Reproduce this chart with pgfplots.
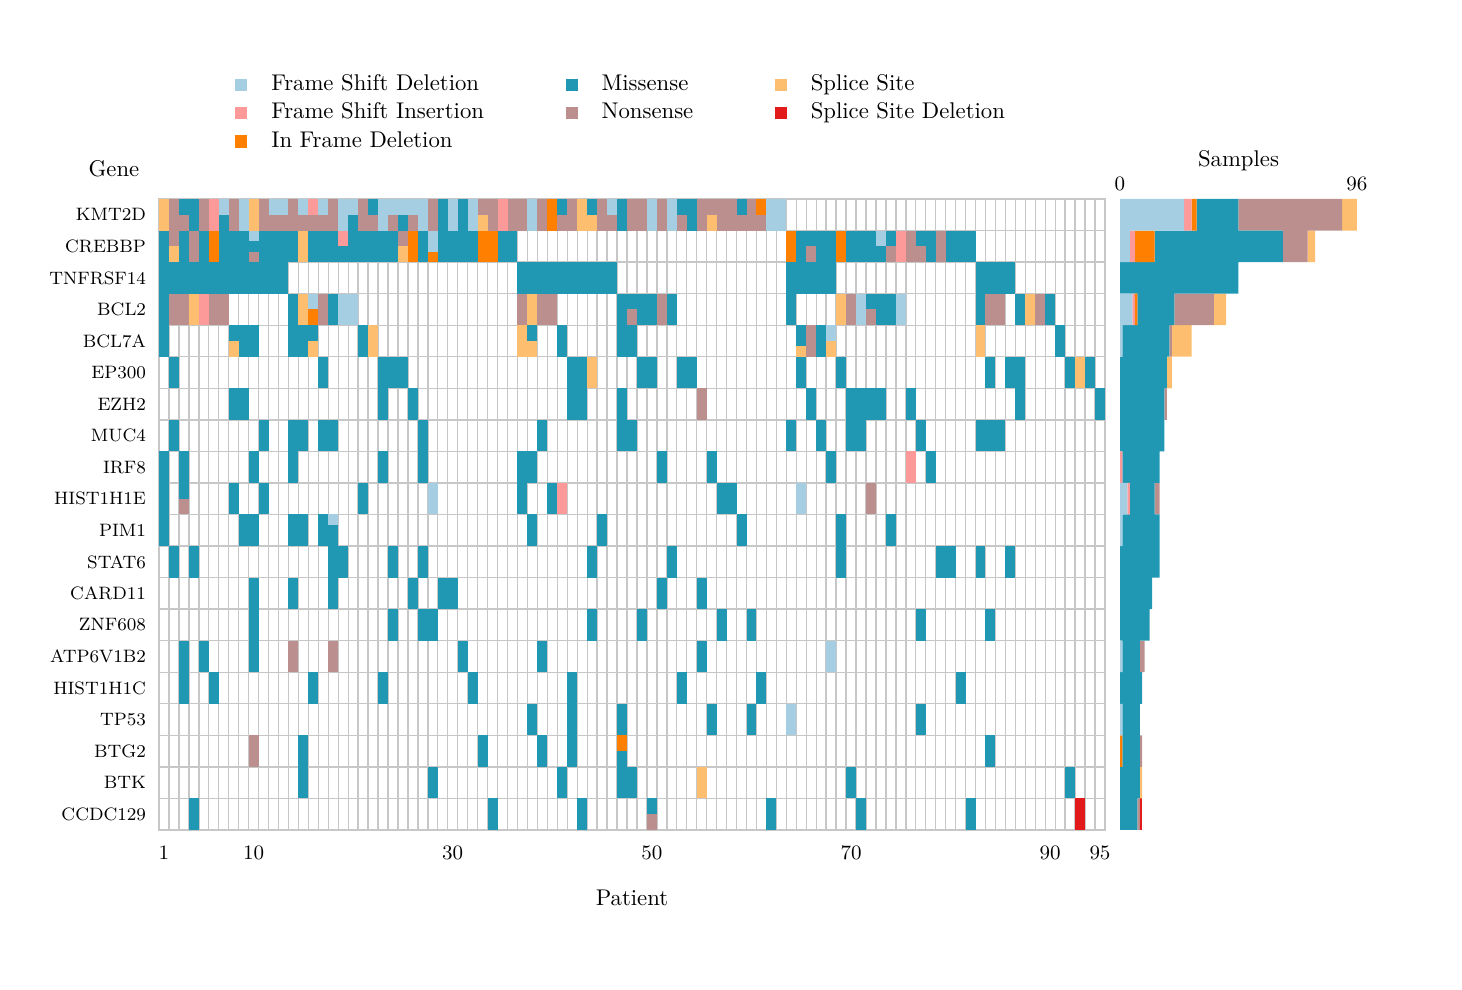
\documentclass[border=0pt]{standalone}
\usepackage{fontspec}
\usepackage{pgfplots}
\pgfplotsset{compat=1.18}
\usepackage{pgfplotstable}

\definecolor{cFSD}{RGB}{166,206,227}
\definecolor{cFSI}{RGB}{251,154,153}
\definecolor{cIFD}{RGB}{255,127,0}
\definecolor{cMis}{RGB}{33,152,179}
\definecolor{cNon}{RGB}{188,143,143}
\definecolor{cSpl}{RGB}{253,191,111}
\definecolor{cSSD}{RGB}{227,26,28}

% p = patient, g = gene row, k-th of n slices inside the cell
\pgfplotstableread{
p g k n
7 1 1 2
9 1 1 1
12 1 1 2
13 1 1 2
15 1 1 2
17 1 1 2
19 1 1 1
20 1 1 2
23 1 1 1
24 1 1 2
25 1 1 2
26 1 1 2
27 1 1 1
30 1 1 1
32 1 1 1
38 1 1 1
46 1 1 2
50 1 1 1
52 1 1 1
62 1 1 1
63 1 1 1
10 2 1 3
28 2 1 3
28 2 2 3
73 2 1 2
16 4 1 2
19 4 1 1
20 4 1 1
71 4 1 1
75 4 1 1
68 5 1 2
28 10 1 1
65 10 1 1
18 11 1 3
68 15 1 1
64 17 1 1
}\fsd

\pgfplotstableread{
p g k n
6 1 1 1
16 1 1 2
35 1 1 1
19 2 1 2
75 2 1 1
5 4 1 1
76 9 1 1
41 10 1 1
}\fsi

\pgfplotstableread{
p g k n
40 1 1 1
61 1 1 2
6 2 1 1
26 2 1 1
28 2 3 3
33 2 1 1
34 2 1 1
64 2 1 1
69 2 1 1
16 4 2 2
47 18 1 2
}\ifd

\pgfplotstableread{
p g k n
3 1 1 2
4 1 1 1
7 1 2 2
20 1 2 2
22 1 1 2
25 1 2 2
29 1 1 1
31 1 1 1
41 1 1 2
44 1 1 2
47 1 1 1
53 1 1 2
54 1 1 1
59 1 1 2
1 2 1 1
3 2 1 1
5 2 1 1
7 2 1 1
8 2 1 1
9 2 1 1
10 2 2 3
11 2 1 1
12 2 1 1
13 2 1 1
14 2 1 1
16 2 1 1
17 2 1 1
18 2 1 1
19 2 2 2
20 2 1 1
21 2 1 1
22 2 1 1
23 2 1 1
24 2 1 1
27 2 1 1
29 2 1 1
30 2 1 1
31 2 1 1
32 2 1 1
35 2 1 1
36 2 1 1
65 2 1 1
66 2 1 2
67 2 1 1
68 2 1 1
70 2 1 1
71 2 1 1
72 2 1 1
73 2 2 2
74 2 1 2
77 2 1 2
78 2 1 1
80 2 1 1
81 2 1 1
82 2 1 1
1 3 1 1
2 3 1 1
3 3 1 1
4 3 1 1
5 3 1 1
6 3 1 1
7 3 1 1
8 3 1 1
9 3 1 1
10 3 1 1
11 3 1 1
12 3 1 1
13 3 1 1
37 3 1 1
38 3 1 1
39 3 1 1
40 3 1 1
41 3 1 1
42 3 1 1
43 3 1 1
44 3 1 1
45 3 1 1
46 3 1 1
64 3 1 1
65 3 1 1
66 3 1 1
67 3 1 1
68 3 1 1
83 3 1 1
84 3 1 1
85 3 1 1
86 3 1 1
1 4 1 1
14 4 1 1
18 4 1 1
47 4 1 1
48 4 1 2
49 4 1 1
50 4 1 1
52 4 1 1
64 4 1 1
72 4 1 2
73 4 1 1
74 4 1 1
83 4 1 1
87 4 1 1
90 4 1 1
1 5 1 1
8 5 1 2
9 5 1 1
10 5 1 1
14 5 1 1
15 5 1 1
16 5 1 2
21 5 1 1
38 5 1 2
41 5 1 1
47 5 1 1
48 5 1 1
65 5 1 3
65 5 2 3
67 5 1 1
91 5 1 1
2 6 1 1
17 6 1 1
23 6 1 1
24 6 1 1
25 6 1 1
42 6 1 1
43 6 1 1
49 6 1 1
50 6 1 1
53 6 1 1
54 6 1 1
65 6 1 1
69 6 1 1
84 6 1 1
86 6 1 1
87 6 1 1
92 6 1 1
94 6 1 1
8 7 1 1
9 7 1 1
23 7 1 1
26 7 1 1
42 7 1 1
43 7 1 1
47 7 1 1
66 7 1 1
70 7 1 1
71 7 1 1
72 7 1 1
73 7 1 1
76 7 1 1
87 7 1 1
95 7 1 1
2 8 1 1
11 8 1 1
14 8 1 1
15 8 1 1
17 8 1 1
18 8 1 1
27 8 1 1
39 8 1 1
47 8 1 1
48 8 1 1
64 8 1 1
67 8 1 1
70 8 1 1
71 8 1 1
77 8 1 1
83 8 1 1
84 8 1 1
85 8 1 1
1 9 1 1
3 9 1 1
10 9 1 1
14 9 1 1
23 9 1 1
27 9 1 1
37 9 1 1
38 9 1 1
51 9 1 1
56 9 1 1
68 9 1 1
78 9 1 1
1 10 1 1
3 10 1 2
8 10 1 1
11 10 1 1
21 10 1 1
37 10 1 1
40 10 1 1
57 10 1 1
58 10 1 1
1 11 1 1
9 11 1 1
10 11 1 1
14 11 1 1
15 11 1 1
17 11 1 1
18 11 2 3
18 11 3 3
38 11 1 1
45 11 1 1
59 11 1 1
69 11 1 1
74 11 1 1
2 12 1 1
4 12 1 1
18 12 1 1
19 12 1 1
24 12 1 1
27 12 1 1
44 12 1 1
52 12 1 1
69 12 1 1
79 12 1 1
80 12 1 1
83 12 1 1
86 12 1 1
10 13 1 1
14 13 1 1
18 13 1 1
26 13 1 1
29 13 1 1
30 13 1 1
51 13 1 1
55 13 1 1
10 14 1 1
24 14 1 1
27 14 1 1
28 14 1 1
44 14 1 1
49 14 1 1
57 14 1 1
60 14 1 1
77 14 1 1
84 14 1 1
3 15 1 1
5 15 1 1
10 15 1 1
31 15 1 1
39 15 1 1
55 15 1 1
3 16 1 1
6 16 1 1
16 16 1 1
23 16 1 1
32 16 1 1
42 16 1 1
53 16 1 1
61 16 1 1
81 16 1 1
38 17 1 1
42 17 1 1
47 17 1 1
56 17 1 1
60 17 1 1
77 17 1 1
15 18 1 1
33 18 1 1
39 18 1 1
42 18 1 1
47 18 2 2
84 18 1 1
15 19 1 1
28 19 1 1
41 19 1 1
47 19 1 1
48 19 1 1
70 19 1 1
92 19 1 1
4 20 1 1
34 20 1 1
43 20 1 1
50 20 1 2
62 20 1 1
71 20 1 1
82 20 1 1
}\mis

\pgfplotstableread{
p g k n
2 1 1 1
3 1 2 2
5 1 1 1
8 1 1 1
11 1 1 1
12 1 2 2
13 1 2 2
14 1 1 1
15 1 2 2
16 1 2 2
17 1 2 2
18 1 1 1
21 1 1 1
22 1 2 2
24 1 2 2
26 1 2 2
28 1 1 1
33 1 1 2
34 1 1 1
36 1 1 1
37 1 1 1
39 1 1 1
41 1 2 2
42 1 1 1
45 1 1 1
46 1 2 2
48 1 1 1
49 1 1 1
51 1 1 1
53 1 2 2
55 1 1 1
56 1 1 2
57 1 1 1
58 1 1 1
59 1 2 2
60 1 1 1
61 1 2 2
2 2 1 2
4 2 1 1
10 2 3 3
25 2 1 2
66 2 2 2
74 2 2 2
76 2 1 1
77 2 2 2
79 2 1 1
2 4 1 1
3 4 1 1
6 4 1 1
7 4 1 1
17 4 1 1
37 4 1 1
39 4 1 1
40 4 1 1
48 4 2 2
51 4 1 1
70 4 1 1
72 4 2 2
84 4 1 1
85 4 1 1
89 4 1 1
66 5 1 1
55 7 1 1
3 10 2 2
72 10 1 1
14 15 1 1
18 15 1 1
10 18 1 1
50 20 2 2
}\non

\pgfplotstableread{
p g k n
1 1 1 1
10 1 1 1
33 1 2 2
43 1 1 1
44 1 2 2
56 1 2 2
2 2 2 2
15 2 1 1
25 2 2 2
4 4 1 1
15 4 1 1
38 4 1 1
69 4 1 1
88 4 1 1
8 5 2 2
16 5 2 2
22 5 1 1
37 5 1 1
38 5 2 2
65 5 3 3
68 5 2 2
83 5 1 1
44 6 1 1
93 6 1 1
55 19 1 1
}\spl

\pgfplotstableread{
p g k n
93 20 1 1
}\ssd

% number of mutated samples per gene and type
\pgfplotstableread{
g fsd fsi ifd mis non spl ssd
1 26 3 2 17 42 6 0
2 4 2 8 52 10 3 0
3 0 0 0 48 0 0 0
4 5 1 1 15 16 5 0
5 1 0 0 19 1 8 0
6 0 0 0 19 0 2 0
7 0 0 0 18 1 0 0
8 0 0 0 18 0 0 0
9 0 1 0 15 0 0 0
10 3 1 0 10 2 0 0
11 1 0 0 15 0 0 0
12 0 0 0 16 0 0 0
13 0 0 0 13 0 0 0
14 0 0 0 12 0 0 0
15 1 0 0 7 2 0 0
16 0 0 0 9 0 0 0
17 1 0 0 7 0 0 0
18 0 0 1 7 1 0 0
19 0 0 0 8 0 1 0
20 0 0 0 7 1 0 1
}\bars

\pgfplotsset{
  cell/.style={forget plot, draw=none, mark=none,
    error bars/.cd, y dir=both, y explicit, error mark=none,
    error bar style={line width=4.3815pt, draw=#1, line cap=butt}},
}

\begin{document}
\begin{tikzpicture}
\path[use as bounding box] (-69.96pt,-70.4pt) rectangle (573.32pt,365.2pt);
\begin{axis}[
    name=main, at={(0,0)}, anchor=south west, scale only axis,
    width=416.24pt, height=277.64pt,
    xmin=0.5, xmax=95.5, ymin=0.5, ymax=20.5, y dir=reverse,
    xtick={1,10,30,50,70,90,95},
    ytick={1,...,20},
    yticklabels={KMT2D,CREBBP,TNFRSF14,BCL2,BCL7A,EP300,EZH2,MUC4,IRF8,HIST1H1E,PIM1,STAT6,CARD11,ZNF608,ATP6V1B2,HIST1H1C,TP53,BTG2,BTK,CCDC129},
    minor xtick={1.5,2.5,...,94.5},
    minor ytick={1.5,2.5,...,19.5},
    xminorgrids, yminorgrids,
    minor grid style={draw=black!22, line width=0.6pt},
    axis line style={draw=black!22, line width=0.6pt},
    major tick length=0pt, minor tick length=0pt,
    xticklabel style={font=\fontsize{8.8}{10}\selectfont, yshift=-3.8pt},
    yticklabel style={font=\fontsize{7.9}{10}\selectfont, xshift=-2.2pt},
    xlabel={Patient},
    xlabel style={at={(axis description cs:0.5,-0.1077)}, anchor=center},
    ylabel={Gene},
    ylabel style={at={(axis description cs:-0.0476,1.0475)}, rotate=-90, anchor=center},
    legend columns=3,
    legend image code/.code={
      \fill[#1] (0pt,-2.65pt) rectangle (5.3pt,2.65pt);
      \path[draw=none, fill=none] (0pt,0pt) rectangle (14.3pt,0.1pt);},
    legend style={at={(axis description cs:0.0803,1.2035)}, anchor=north west,
      draw=none, fill=none, inner sep=0pt, row sep=0.5pt,
      nodes={inner sep=1.5pt, text height=7pt, text depth=2pt},
      cells={anchor=west},
      /tikz/every even column/.append style={column sep=34.4pt}},
]
\addlegendimage{fill=cFSD, draw=none}\addlegendentry{Frame Shift Deletion}
\addlegendimage{fill=cMis, draw=none}\addlegendentry{Missense}
\addlegendimage{fill=cSpl, draw=none}\addlegendentry{Splice Site}
\addlegendimage{fill=cFSI, draw=none}\addlegendentry{Frame Shift Insertion}
\addlegendimage{fill=cNon, draw=none}\addlegendentry{Nonsense}
\addlegendimage{fill=cSSD, draw=none}\addlegendentry{Splice Site Deletion}
\addlegendimage{fill=cIFD, draw=none}\addlegendentry{In Frame Deletion}

\addplot[cell=cFSD] table[x=p, y expr={\thisrow{g}-0.5+(\thisrow{k}-0.5)/\thisrow{n}}, y error expr={0.5/\thisrow{n}}] {\fsd};
\addplot[cell=cFSI] table[x=p, y expr={\thisrow{g}-0.5+(\thisrow{k}-0.5)/\thisrow{n}}, y error expr={0.5/\thisrow{n}}] {\fsi};
\addplot[cell=cIFD] table[x=p, y expr={\thisrow{g}-0.5+(\thisrow{k}-0.5)/\thisrow{n}}, y error expr={0.5/\thisrow{n}}] {\ifd};
\addplot[cell=cMis] table[x=p, y expr={\thisrow{g}-0.5+(\thisrow{k}-0.5)/\thisrow{n}}, y error expr={0.5/\thisrow{n}}] {\mis};
\addplot[cell=cNon] table[x=p, y expr={\thisrow{g}-0.5+(\thisrow{k}-0.5)/\thisrow{n}}, y error expr={0.5/\thisrow{n}}] {\non};
\addplot[cell=cSpl] table[x=p, y expr={\thisrow{g}-0.5+(\thisrow{k}-0.5)/\thisrow{n}}, y error expr={0.5/\thisrow{n}}] {\spl};
\addplot[cell=cSSD] table[x=p, y expr={\thisrow{g}-0.5+(\thisrow{k}-0.5)/\thisrow{n}}, y error expr={0.5/\thisrow{n}}] {\ssd};
\end{axis}

\begin{axis}[
    at={(422.84pt,0)}, anchor=south west, scale only axis,
    width=104.28pt, height=277.64pt,
    xbar stacked, bar width=1,
    xmin=0, xmax=96, ymin=0.5, ymax=20.5, y dir=reverse,
    xtick={0,96}, ytick=\empty,
    xticklabel pos=upper,
    axis line style={draw=none},
    major tick length=0pt,
    xticklabel style={font=\fontsize{8.8}{10}\selectfont},
    title={Samples},
    title style={at={(axis description cs:0.5,1)}, anchor=center, yshift=11pt},
]
\addplot[fill=cFSD, draw=none] table[x=fsd, y=g] {\bars};
\addplot[fill=cFSI, draw=none] table[x=fsi, y=g] {\bars};
\addplot[fill=cIFD, draw=none] table[x=ifd, y=g] {\bars};
\addplot[fill=cMis, draw=none] table[x=mis, y=g] {\bars};
\addplot[fill=cNon, draw=none] table[x=non, y=g] {\bars};
\addplot[fill=cSpl, draw=none] table[x=spl, y=g] {\bars};
\addplot[fill=cSSD, draw=none] table[x=ssd, y=g] {\bars};
\end{axis}
\end{tikzpicture}
\end{document}
